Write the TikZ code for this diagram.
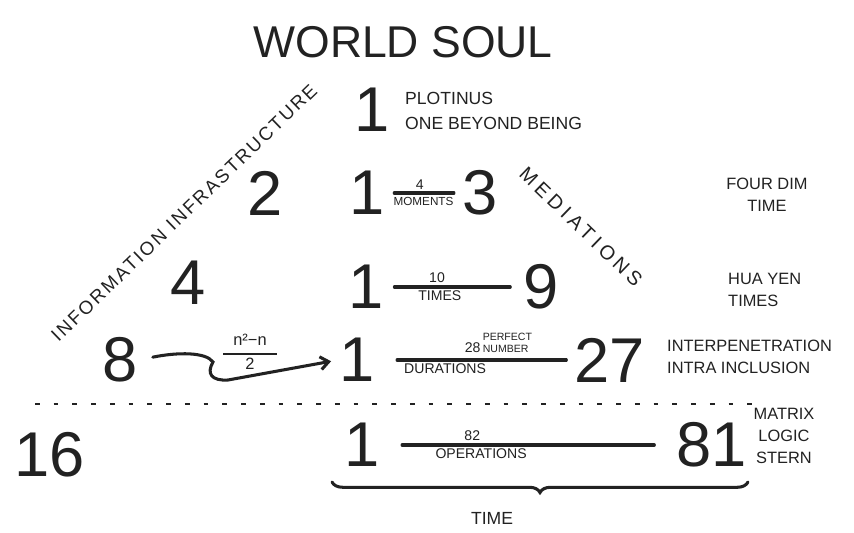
\documentclass[tikz,border=0pt]{standalone}
\usepackage{fontspec}
\setmainfont{Liberation Sans}
\newfontfamily\spacedfont[LetterSpace=22]{Liberation Sans}
\newfontfamily\looserfont[LetterSpace=12]{Liberation Sans}
\usetikzlibrary{arrows.meta,decorations.pathreplacing}
\definecolor{ink}{HTML}{222222}

\tikzset{
  digit/.style={font=\fontsize{54}{56}\selectfont, text=ink, inner sep=1pt},
  note/.style={font=\fontsize{14}{19}\selectfont, text=ink, inner sep=0pt},
  small/.style={font=\fontsize{12}{13}\selectfont, text=ink, inner sep=2pt},
  bar/.style={ink, line width=2.6pt, line cap=round},
}

\begin{document}
\begin{tikzpicture}[x=0.03cm, y=-0.03cm]
  \fill[white] (0,0) rectangle (854,533);
  \useasboundingbox (0,0) rectangle (854,533);

  % Title
  \node[text=ink, font=\fontsize{38}{40}\selectfont] (title) at (403,42) {WORLD SOUL};

  % Diagonal captions
  \node[text=ink, font=\looserfont\fontsize{16}{17}\selectfont, rotate=44] (infra) at (184,213) {INFORMATION INFRASTRUCTURE};
  \node[text=ink, font=\spacedfont\fontsize{17}{18}\selectfont, rotate=-44] (medi) at (581,227) {MEDIATIONS};

  % Row 1
  \node[digit] (oneA) at (372,110) {1};
  \node[note, anchor=west, align=left, font=\fontsize{15}{21}\selectfont] (plot) at (405,111) {PLOTINUS\\ONE BEYOND BEING};

  % Row 2
  \node[digit] (two) at (265,193) {2};
  \node[digit] (oneB) at (367,193) {1};
  \node[digit] (three) at (480,193) {3};
  \draw[bar, shorten <=7pt, shorten >=6pt] (oneB.east) -- node[small, above, pos=0.45] (fournum) {4}
    node[small, below, pos=0.5, font=\fontsize{10}{11}\selectfont] (moments) {MOMENTS} (three.west);
  \node[note, align=center] (fourdim) at (767,195) {FOUR DIM\\TIME};

  % Row 3
  \node[digit] (four) at (188,283) {4};
  \node[digit] (oneC) at (366,287) {1};
  \node[digit] (nine) at (541,287) {9};
  \draw[bar, shorten <=8pt, shorten >=10pt] (oneC.east) -- node[small, above, pos=0.38] (tennum) {10}
    node[small, below, pos=0.4] (times) {TIMES} (nine.west);
  \node[note, anchor=west, align=left] (huayen) at (728,290) {HUA YEN\\TIMES};

  % Row 4
  \node[digit] (eight) at (120,360) {8};
  \node[digit] (oneD) at (357,360) {1};
  \node[digit] (tseven) at (610,360) {27};
  \node[text=ink, font=\fontsize{14}{15}\selectfont, inner sep=0pt] (frac) at (250,354)
    {\begin{tabular}{@{}c@{}}n²−n\\[-7pt]\rule{46pt}{2.2pt}\\[-3pt]2\end{tabular}};
  \draw[bar, shorten <=12pt, shorten >=6pt, -{Straight Barb[length=7pt,width=11pt]}]
    (eight.east) .. controls (178,352) and (206,352) .. (213,362)
    .. controls (206,374) and (212,381) .. (228,380) -- (oneD.west);
  \draw[bar, shorten <=18pt, shorten >=6pt] (oneD.east) --
    node[small, above, pos=0.62] (perfect) {28\,{\fontsize{9}{10}\selectfont\begin{tabular}[b]{@{}l@{}}PERFECT\\NUMBER\end{tabular}}}
    node[small, below, pos=0.35] (durations) {DURATIONS} (tseven.west);
  \node[note, anchor=west, align=left] (interp) at (667,357) {INTERPENETRATION\\INTRA INCLUSION};

  % Divider
  \coordinate (dashL) at (35,404);
  \coordinate (dashR) at (752,404);
  \draw[ink, line width=2.2pt, dash pattern=on 4pt off 12pt] (dashL) -- (dashR);

  % Row 5
  \node[digit] (sixteen) at (50,455) {16};
  \node[digit] (oneE) at (362,445) {1};
  \node[digit] (eightyone) at (712,445) {81};
  \draw[bar, shorten <=18pt, shorten >=18pt] (oneE.east) -- node[small, above, pos=0.31] (eighttwo) {82}
    node[small, below, pos=0.34] (operations) {OPERATIONS} (eightyone.west);
  \node[note, align=center] (matrix) at (784,436) {MATRIX\\LOGIC\\STERN};

  % Time brace
  \coordinate (brL) at (332,482);
  \coordinate (brR) at (748,482);
  \draw[bar, decorate, decoration={brace, amplitude=9pt, mirror}] (brL) -- (brR);
  \node[note, font=\fontsize{15}{16}\selectfont] (time) at (492,518) {TIME};
\end{tikzpicture}
\end{document}
